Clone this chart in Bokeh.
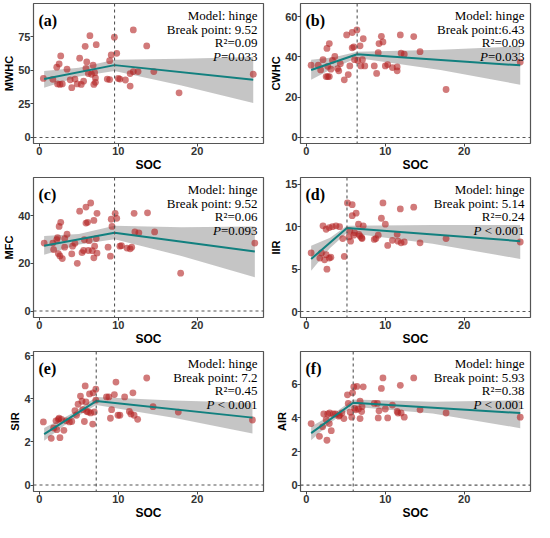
from bokeh.plotting import figure
from bokeh.layouts import gridplot
from bokeh.models import Label, Span, ColumnDataSource, FixedTicker, Range1d
from bokeh.embed import file_html
from bokeh.resources import INLINE

# ---------------- data ----------------
soc_a = [0.5, 1.7, 2.2, 2.5, 2.7, 2.3, 2.6, 2.9, 3.5, 3.9, 4.1, 4.5, 4.8, 5.1, 5.3, 5.6, 5.8, 5.9, 6.0,
         6.2, 6.4, 6.6, 6.8, 6.9, 7.0, 7.1, 7.2, 7.1, 8.6, 8.9, 8.9, 9.1, 9.5, 9.8, 10.0, 10.2, 10.9, 11.5,
         11.5, 11.9, 11.9, 12.5, 13.6, 14.5, 17.7, 27.1]
mwhc = [44.1, 43.4, 52.5, 54.9, 60.9, 40.0, 39.6, 40.0, 51.0, 43.0, 37.2, 43.6, 40.0, 59.2, 39.6, 42.0,
        68.0, 51.6, 56.4, 47.7, 76.0, 47.2, 54.0, 39.6, 48.4, 44.4, 69.3, 41.2, 43.6, 43.2, 57.3, 61.6,
        74.8, 62.8, 44.1, 43.6, 42.9, 38.4, 47.7, 49.2, 80.3, 49.2, 68.3, 49.2, 33.3, 47.2]

soc_b = [0.6, 1.5, 1.8, 2.1, 2.5, 2.7, 2.7, 2.9, 2.6, 2.9, 3.1, 3.3, 3.6, 3.95, 4.1, 4.3, 4.8, 5.1, 5.3,
         5.5, 5.8, 5.8, 6.0, 6.1, 6.4, 6.5, 6.8, 6.9, 7.1, 7.2, 7.4, 8.6, 8.9, 9.1, 9.2, 9.5, 9.7, 10.0,
         10.3, 10.9, 11.5, 11.5, 11.9, 12.0, 12.4, 13.6, 14.4, 17.7, 27.1]
cwhc = [35.9, 35.9, 33.5, 38.6, 30.2, 35.3, 30.2, 46.6, 44.2, 30.2, 33.9, 38.3, 40.2, 34.2, 33.1, 36.6,
        28.6, 50.9, 31.2, 35.5, 52.1, 44.5, 45.0, 38.6, 53.4, 38.2, 45.5, 35.5, 38.6, 49.0, 35.5, 35.5,
        31.8, 42.1, 46.6, 50.2, 47.4, 35.5, 36.2, 34.7, 35.0, 33.1, 50.9, 41.8, 41.3, 50.1, 42.6, 23.8,
        37.4]

soc_c = [0.6, 1.7, 1.8, 2.2, 2.3, 2.5, 2.7, 2.4, 2.6, 2.9, 3.2, 3.5, 3.2, 4.1, 4.2, 4.5, 4.8, 5.1, 5.4,
         5.6, 5.7, 5.9, 5.9, 6.1, 6.2, 6.3, 6.5, 6.7, 6.9, 6.9, 7.0, 7.2, 7.3, 7.3, 8.7, 9.0, 9.1, 9.2,
         9.6, 9.8, 10.2, 10.4, 11.1, 11.5, 11.7, 12.0, 12.1, 12.6, 13.7, 14.6, 17.9, 27.3]
mfc = [28.5, 28.5, 25.8, 29.9, 30.8, 35.5, 37.2, 24.1, 23.1, 22.0, 30.4, 32.2, 26.8, 24.0, 27.2, 28.4,
       20.0, 41.9, 24.5, 25.4, 29.9, 43.6, 36.9, 37.2, 25.4, 29.5, 45.3, 25.3, 38.0, 22.3, 27.2, 30.4,
       24.3, 41.0, 26.8, 23.0, 38.5, 35.5, 41.0, 38.9, 27.2, 27.4, 26.4, 26.1, 26.8, 41.0, 33.2, 32.8,
       41.2, 33.2, 15.9, 28.5]

soc_d = [0.6, 1.7, 1.9, 2.1, 2.5, 2.3, 2.5, 2.6, 2.9, 2.9, 3.1, 3.3, 3.75, 4.2, 4.6, 4.8, 5.2, 5.4, 5.5,
         5.6, 5.8, 5.8, 6.0, 6.1, 6.3, 6.6, 6.65, 6.8, 7.0, 7.2, 7.05, 8.6, 8.8, 9.1, 9.5, 9.7, 10.0,
         10.3, 10.9, 11.5, 11.6, 11.9, 12.0, 12.4, 13.6, 14.4, 17.7, 27.1]
iir = [6.9, 6.3, 6.9, 10.1, 6.7, 6.1, 9.7, 5.0, 6.3, 9.9, 6.4, 10.0, 10.1, 10.0, 8.6, 6.5, 12.8, 8.8,
       9.5, 8.3, 12.6, 11.3, 9.0, 9.3, 11.6, 10.3, 9.1, 8.9, 8.7, 10.1, 8.6, 8.5, 8.6, 9.0, 11.0, 12.8,
       10.3, 7.8, 8.4, 9.1, 8.3, 12.1, 8.1, 8.2, 12.3, 8.1, 8.6, 8.2]

soc_e = [0.5, 1.5, 1.8, 2.1, 2.2, 2.4, 2.5, 2.6, 2.8, 3.1, 3.4, 3.8, 4.1, 4.5, 4.7, 4.9, 5.2, 5.4, 5.5,
         5.7, 5.8, 5.9, 6.0, 6.2, 6.35, 6.5, 6.75, 6.8, 6.95, 7.15, 7.15, 8.5, 8.8, 9.0, 9.15, 9.5, 9.7,
         9.96, 10.2, 10.8, 11.4, 11.6, 11.85, 12.0, 12.45, 13.6, 14.4, 17.6, 27.0]
sir = [2.93, 2.17, 2.65, 2.98, 2.57, 3.05, 3.10, 2.20, 3.05, 2.54, 2.98, 2.93, 2.95, 3.45, 3.24, 3.75,
       4.13, 3.89, 3.50, 2.95, 4.60, 3.86, 3.42, 3.39, 4.23, 3.35, 2.83, 4.28, 3.39, 4.45, 3.94, 4.09,
       4.09, 3.10, 3.50, 4.20, 4.78, 3.24, 3.24, 4.09, 3.42, 3.30, 4.28, 3.24, 3.05, 4.97, 3.64, 3.39,
       3.02]

soc_f = [0.6, 1.65, 2.05, 2.2, 2.5, 2.6, 2.7, 2.95, 2.9, 3.15, 3.4, 3.7, 4.1, 4.2, 4.5, 4.75, 5.2, 5.3,
         5.55, 5.75, 5.85, 6.0, 6.1, 6.25, 6.4, 6.6, 6.8, 6.8, 7.0, 7.05, 7.2, 8.6, 9.0, 9.1, 9.2, 9.5,
         9.7, 10.0, 10.3, 10.9, 11.5, 11.6, 11.9, 12.0, 12.4, 13.6, 14.4, 17.7, 27.1]
air = [3.66, 2.90, 3.47, 4.23, 3.90, 2.67, 4.23, 4.29, 3.66, 3.24, 4.23, 4.23, 4.10, 4.15, 4.29, 3.96,
       5.37, 4.86, 4.34, 4.04, 5.49, 5.85, 4.57, 4.48, 5.87, 4.53, 4.99, 3.96, 4.38, 4.67, 5.85, 4.86,
       4.86, 4.00, 4.42, 5.75, 6.38, 4.53, 4.00, 4.76, 4.38, 4.29, 5.94, 4.29, 4.04, 6.38, 4.48, 4.29,
       4.04]

# fitted hinge lines (start, break point, end)
fit_x_a = [0.6, 9.52, 27.1]; fit_y_a = [43.6, 54.0, 43.0]
fit_x_b = [0.6, 6.43, 27.1]; fit_y_b = [33.5, 41.3, 35.8]
fit_x_c = [0.6, 9.52, 27.3]; fit_y_c = [27.4, 32.8, 25.0]
fit_x_d = [0.6, 5.14, 27.1]; fit_y_d = [6.2, 9.85, 8.3]
fit_x_e = [0.6, 7.2, 27.0]; fit_y_e = [2.36, 3.90, 3.13]
fit_x_f = [0.6, 5.93, 27.1]; fit_y_f = [3.09, 4.90, 4.29]

# confidence bands
band_x_a = [0.6, 5.0, 9.52, 18.0, 27.1]
band_lo_a = [37.2, 45.5, 49.6, 38.7, 25.7]; band_hi_a = [49.6, 52.0, 58.0, 58.7, 60.0]
band_x_b = [0.6, 3.5, 6.43, 17.0, 27.1]
band_lo_b = [28.6, 34.6, 39.4, 33.5, 26.2]; band_hi_b = [38.6, 39.8, 42.6, 43.5, 45.3]
band_x_c = [0.6, 5.0, 9.52, 18.0, 27.3]
band_lo_c = [23.6, 27.9, 30.1, 23.1, 14.2]; band_hi_c = [31.5, 32.3, 35.8, 35.1, 35.5]
band_x_d = [0.6, 3.0, 5.14, 16.0, 27.1]
band_lo_d = [4.8, 7.5, 9.3, 8.0, 6.2]; band_hi_d = [7.75, 8.7, 10.1, 10.2, 10.2]
band_x_e = [0.6, 4.0, 7.2, 17.0, 27.0]
band_lo_e = [2.06, 3.0, 3.72, 3.12, 2.39]; band_hi_e = [2.65, 3.3, 4.09, 3.92, 3.82]
band_x_f = [0.6, 3.3, 5.93, 16.0, 27.1]
band_lo_f = [2.67, 3.8, 4.67, 4.26, 3.39]; band_hi_f = [3.49, 4.2, 5.10, 4.96, 5.05]

y_labels = ["MWHC", "CWHC", "MFC", "IIR", "SIR", "AIR"]
panel_tags = ["(a)", "(b)", "(c)", "(d)", "(e)", "(f)"]
break_points = [9.52, 6.43, 9.52, 5.14, 7.2, 5.93]
bp_texts = ["Break point: 9.52", "Break point:6.43", "Break point: 9.52",
            "Break point: 5.14", "Break point: 7.2", "Break point: 5.93"]
r2_texts = ["R\u00b2=0.09", "R\u00b2=0.09", "R\u00b2=0.06", "R\u00b2=0.24", "R\u00b2=0.45", "R\u00b2=0.38"]
p_texts = ["=0.033", "=0.033", "=0.093", "\u00a0<\u00a00.001", "\u00a0<\u00a00.001", "\u00a0<\u00a00.001"]
x_ticks = [0, 10, 20]
y_ticks = [[0, 25, 50, 75], [0, 20, 40, 60], [0, 20, 40], [0, 5, 10, 15], [0, 2, 4, 6], [0, 2, 4, 6]]
y_lims = [(-4.5, 100), (-3.0, 66.5), (-2.7, 56), (-0.7, 15.8), (-0.3, 6.2), (-0.38, 7.95)]
x_lim = (-0.75, 28.4)

xs = [soc_a, soc_b, soc_c, soc_d, soc_e, soc_f]
ys = [mwhc, cwhc, mfc, iir, sir, air]
fxs = [fit_x_a, fit_x_b, fit_x_c, fit_x_d, fit_x_e, fit_x_f]
fys = [fit_y_a, fit_y_b, fit_y_c, fit_y_d, fit_y_e, fit_y_f]
bxs = [band_x_a, band_x_b, band_x_c, band_x_d, band_x_e, band_x_f]
blos = [band_lo_a, band_lo_b, band_lo_c, band_lo_d, band_lo_e, band_lo_f]
bhis = [band_hi_a, band_hi_b, band_hi_c, band_hi_d, band_hi_e, band_hi_f]

SERIF = "Liberation Serif"
SANS = "Liberation Sans"
ANN = 13  # px


def text_width(s, size):
    w = {"0": .5, "1": .5, "2": .5, "3": .5, "4": .5, "5": .5, "6": .5, "7": .5, "8": .5, "9": .5,
         ".": .25, "=": .564, "<": .564, " ": .25, "\u00a0": .25}
    return sum(w.get(c, .5) for c in s) * size


def make_panel(i):
    p = figure(width=267, height=174, output_backend="svg", toolbar_location=None,
               x_range=Range1d(*x_lim), y_range=Range1d(*y_lims[i]),
               min_border_left=2, min_border_right=4, min_border_top=3, min_border_bottom=0)
    p.grid.visible = False
    p.background_fill_color = "white"
    p.outline_line_color = "#555555"
    p.outline_line_width = 1.2

    bx = bxs[i]
    p.varea(x=bx, y1=blos[i], y2=bhis[i], fill_color="#c2c2c2", fill_alpha=0.95)
    p.add_layout(Span(location=break_points[i], dimension="height", line_color="#555555",
                      line_dash="3 3", line_width=1.1))
    p.add_layout(Span(location=0, dimension="width", line_color="#555555",
                      line_dash="3 3", line_width=1.1))
    src = ColumnDataSource(dict(x=xs[i], y=ys[i]))
    p.scatter("x", "y", source=src, size=6.8, fill_color="firebrick", fill_alpha=0.6,
              line_color=None)
    p.line(fxs[i], fys[i], line_color="#12807f", line_width=2)

    for ax in (p.xaxis[0], p.yaxis[0]):
        ax.axis_line_color = None
        ax.major_tick_line_color = "#444444"
        ax.major_tick_out = 3
        ax.major_tick_in = 0
        ax.minor_tick_line_color = None
        ax.major_label_text_font = SANS
        ax.major_label_text_font_style = "bold"
        ax.major_label_text_font_size = "11px"
        ax.major_label_text_color = "#333333"
        ax.axis_label_text_font = SANS
        ax.axis_label_text_font_style = "bold"
        ax.axis_label_text_color = "black"
        ax.major_label_standoff = 0
        ax.axis_label_standoff = 0
    p.xaxis.axis_label = "SOC"
    p.xaxis.axis_label_text_font_size = "12px"
    p.yaxis.axis_label = y_labels[i]
    p.yaxis.axis_label_text_font_size = "11px"
    p.xaxis.ticker = FixedTicker(ticks=x_ticks)
    p.yaxis.ticker = FixedTicker(ticks=y_ticks[i])

    xr = x_lim[1]
    yt = y_lims[i][1]
    p.add_layout(Label(x=x_lim[0], y=yt, x_offset=5, y_offset=-17, text=panel_tags[i],
                       text_font=SERIF, text_font_style="bold", text_font_size="16px",
                       text_align="left", text_baseline="alphabetic", text_color="black"))
    lines = ["Model: hinge", bp_texts[i], r2_texts[i]]
    for k, t in enumerate(lines):
        p.add_layout(Label(x=xr, y=yt, x_offset=-6, y_offset=-(12 + 13.5 * k), text=t,
                           text_font=SERIF, text_font_size=f"{ANN}px", text_align="right",
                           text_baseline="alphabetic", text_color="black"))
    p.add_layout(Label(x=xr, y=yt, x_offset=-6, y_offset=-(12 + 13.5 * 3), text=p_texts[i],
                       text_font=SERIF, text_font_size=f"{ANN}px", text_align="right",
                       text_baseline="alphabetic", text_color="black"))
    pw = text_width(p_texts[i], ANN)
    p.add_layout(Label(x=xr, y=yt, x_offset=-6 - pw, y_offset=-(12 + 13.5 * 3), text="P",
                       text_font=SERIF, text_font_style="italic", text_font_size=f"{ANN}px",
                       text_align="right", text_baseline="alphabetic", text_color="black"))
    return p


panels = [make_panel(i) for i in range(6)]
grid = gridplot([[panels[0], panels[1]], [panels[2], panels[3]], [panels[4], panels[5]]],
                toolbar_location=None)

open("out.html", "w").write(file_html(grid, INLINE))
